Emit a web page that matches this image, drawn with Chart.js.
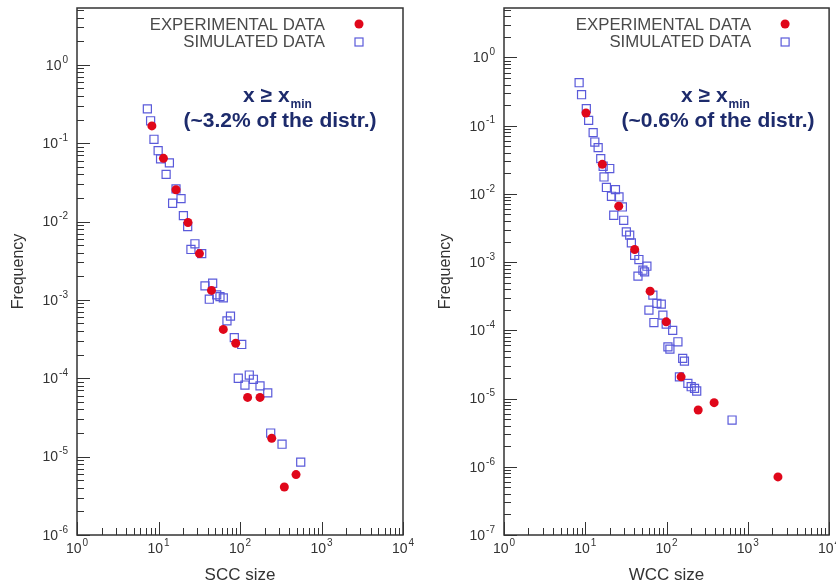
<!DOCTYPE html>
<html>
<head>
<meta charset="utf-8">
<title>SCC / WCC size distributions</title>
<script src="https://cdn.jsdelivr.net/npm/chart.js@4.4.1/dist/chart.umd.min.js"></script>
<style>
    html, body { margin: 0; padding: 0; background: #ffffff; }
    #wrap { position: relative; width: 836px; height: 584px; overflow: hidden; }
    .panel { position: absolute; top: 0; width: 418px; height: 584px; }
    #leftPanel { left: 0; }
    #rightPanel { left: 418px; }
</style>
</head>
<body>
<div id="wrap">
    <div class="panel" id="leftPanel"><canvas id="sccChart"></canvas></div>
    <div class="panel" id="rightPanel"><canvas id="wccChart"></canvas></div>
</div>
<script>
// ==========================================
// DATA
// ==========================================

// SCC size - experimental
const sccExpX = [8.3, 11.5, 16.4, 23.0, 31.8, 44.7, 62.4, 88.6, 124, 176, 245, 487, 350];
const sccExpY = [0.166, 0.064, 0.0254, 0.0097, 0.0039, 0.00132, 0.00042, 0.00028, 5.7e-5, 5.7e-5, 1.71e-5, 5.9e-6, 4.1e-6];

// SCC size - simulated
const sccSimX = [7.3, 8.0, 8.8, 9.9, 10.6, 13.6, 12.4, 16.4, 18.9, 14.9, 20.2, 22.8, 28.0, 25.0, 33.9,
    37.2, 46.2, 42.0, 51.8, 56.8, 62.4, 76.4, 69.2, 85.1, 105, 95.3, 130, 146, 115, 176, 219, 238, 328, 556];
const sccSimY = [0.274, 0.193, 0.112, 0.080, 0.063, 0.056, 0.040, 0.026, 0.0196, 0.0171, 0.0119, 0.0086, 0.0052, 0.0044, 0.0039,
    0.00151, 0.00163, 0.00102, 0.00116, 0.0011, 0.00106, 0.00062, 0.00054, 0.00033, 0.00027, 1.0e-4, 1.1e-4, 9.7e-5, 8.2e-5, 8.0e-5, 6.5e-5, 2.0e-5, 1.44e-5, 8.5e-6];

// WCC size - experimental
const wccExpX = [10.2, 16.2, 25.8, 40.5, 62.8, 99.1, 151, 245, 385, 2349];
const wccExpY = [0.153, 0.0271, 0.0066, 0.00153, 0.000375, 0.000133, 2.08e-5, 6.8e-6, 8.7e-6, 7.1e-7];

// WCC size - simulated
const wccSimX = [8.4, 9.0, 10.3, 11.0, 12.5, 13.1, 14.4, 15.5, 16.6, 20.0, 17.0, 18.2, 23.5, 21.0, 26.0, 28.6, 22.4,
    29.7, 32.0, 35.2, 36.9, 40.5, 45.7, 51.2, 57.3, 44.5, 53.7, 67.9, 76.0, 86.1, 60.7, 90.1, 69.9, 99,
    119, 138, 104, 110, 158, 166, 144, 183, 201, 221, 235, 640];
const wccSimY = [0.426, 0.284, 0.177, 0.1196, 0.079, 0.0575, 0.0476, 0.0329, 0.0254, 0.0235, 0.0177, 0.0124, 0.01156, 0.00922, 0.00901, 0.00643, 0.00486,
    0.0041, 0.00277, 0.00248, 0.00191, 0.00126, 0.00109, 0.00076, 0.00087, 0.000622, 0.00072, 0.000328, 0.000248, 0.000242, 0.000198, 0.000167, 0.00013, 0.000123,
    1.0e-4, 6.79e-5, 5.73e-5, 5.31e-5, 3.88e-5, 3.54e-5, 2.08e-5, 1.67e-5, 1.49e-5, 1.41e-5, 1.29e-5, 4.84e-6];

// axis ranges
const xRange = [1, 1e4];
const sccYRange = [1e-6, 5.3];
const wccYRange = [1e-7, 5.3];

const legendLabels = ['EXPERIMENTAL DATA', 'SIMULATED DATA'];

// ==========================================
// STYLE
// ==========================================

const FONT = '"Liberation Sans", Arial, Helvetica, sans-serif';
const RED = '#e0071a';
const BLUE = '#5a5ada';
const NAVY = '#1d2b6c';
const AXIS = '#333333';

const pairs = (xs, ys) => xs.map((x, i) => ({ x: x, y: ys[i] }));

// is a tick a decade (major), a 2..9 (minor) or something else
const tickKind = (v) => {
    const e = Math.floor(Math.log10(v) + 1e-9);
    const m = v / Math.pow(10, e);
    if (Math.abs(m - Math.round(m)) > 1e-6) return null;
    return Math.round(m) === 1 ? 'major' : 'minor';
};

// "10" with a raised exponent
const drawPower = (ctx, exp, x, y, align) => {
    ctx.font = '14px ' + FONT;
    const wb = ctx.measureText('10').width;
    ctx.font = '10px ' + FONT;
    const ws = ctx.measureText(exp).width;
    const total = wb + 1 + ws;
    const left = align === 'right' ? x - total : x - total / 2;
    ctx.textAlign = 'left';
    ctx.textBaseline = 'middle';
    ctx.font = '14px ' + FONT;
    ctx.fillText('10', left, y);
    ctx.font = '10px ' + FONT;
    ctx.fillText(exp, left + wb + 1, y - 6);
};

// ==========================================
// FRAME / TICKS / TEXT PLUGIN
// ==========================================

const frameDecor = {
    id: 'frameDecor',
    beforeDatasetsDraw(chart, args, opts) {
        const { ctx, chartArea: a } = chart;
        const xs = chart.scales.x;
        const ys = chart.scales.y;
        ctx.save();

        // box
        ctx.strokeStyle = AXIS;
        ctx.lineWidth = 1.5;
        ctx.strokeRect(a.left, a.top, a.right - a.left, a.bottom - a.top);

        // inward tick marks
        ctx.lineWidth = 1;
        ctx.beginPath();
        xs.ticks.forEach(t => {
            const kind = tickKind(t.value);
            if (!kind) return;
            const px = Math.round(xs.getPixelForValue(t.value)) + 0.5;
            ctx.moveTo(px, a.bottom);
            ctx.lineTo(px, a.bottom - (kind === 'major' ? 13 : 7));
        });
        ys.ticks.forEach(t => {
            const kind = tickKind(t.value);
            if (!kind) return;
            const py = Math.round(ys.getPixelForValue(t.value)) + 0.5;
            ctx.moveTo(a.left, py);
            ctx.lineTo(a.left + (kind === 'major' ? 13 : 7), py);
        });
        ctx.stroke();

        // tick labels
        ctx.fillStyle = AXIS;
        xs.ticks.forEach(t => {
            if (tickKind(t.value) !== 'major') return;
            const e = Math.round(Math.log10(t.value));
            drawPower(ctx, String(e), xs.getPixelForValue(t.value), a.bottom + 14, 'center');
        });
        ys.ticks.forEach(t => {
            if (tickKind(t.value) !== 'major') return;
            const e = Math.round(Math.log10(t.value));
            drawPower(ctx, String(e), a.left - 9, ys.getPixelForValue(t.value) + 1, 'right');
        });

        // axis titles
        ctx.fillStyle = AXIS;
        ctx.font = '17px ' + FONT;
        ctx.textAlign = 'center';
        ctx.textBaseline = 'middle';
        ctx.fillText(opts.xTitle, (a.left + a.right) / 2, a.bottom + 40);
        ctx.save();
        ctx.translate(opts.yTitleX, (a.top + a.bottom) / 2);
        ctx.rotate(-Math.PI / 2);
        ctx.font = '16px ' + FONT;
        ctx.fillText('Frequency', 0, 0);
        ctx.restore();

        // legend (text on the left, marker on the right)
        const mx = a.right - 44;
        ctx.font = '16.8px ' + FONT;
        ctx.fillStyle = '#4a4a4a';
        ctx.textAlign = 'right';
        ctx.fillText(legendLabels[0], a.right - 78, a.top + 17);
        ctx.fillText(legendLabels[1], a.right - 78, a.top + 34);
        ctx.fillStyle = RED;
        ctx.beginPath();
        ctx.arc(mx, a.top + 16, 4.5, 0, Math.PI * 2);
        ctx.fill();
        ctx.strokeStyle = BLUE;
        ctx.lineWidth = 1.2;
        ctx.strokeRect(mx - 4, a.top + 30, 8, 8);

        // annotation
        ctx.fillStyle = NAVY;
        ctx.textBaseline = 'alphabetic';
        ctx.textAlign = 'left';
        ctx.font = 'bold 21px ' + FONT;
        const main = 'x \u2265 x';
        const wm = ctx.measureText(main).width;
        ctx.font = 'bold 12px ' + FONT;
        const wsub = ctx.measureText('min').width;
        const start = opts.noteX - 3 - (wm + wsub) / 2;
        ctx.font = 'bold 21px ' + FONT;
        ctx.fillText(main, start, 102);
        ctx.font = 'bold 12px ' + FONT;
        ctx.fillText('min', start + wm + 1, 108);
        ctx.font = 'bold 21px ' + FONT;
        ctx.textAlign = 'center';
        ctx.fillText(opts.note, opts.noteX, 127);

        ctx.restore();
    }
};

// ==========================================
// CHART FACTORY
// ==========================================

const makeChart = (canvasId, expData, simData, yRange, layout) => {
    const ctx = document.getElementById(canvasId).getContext('2d');
    return new Chart(ctx, {
        type: 'scatter',
        data: {
            datasets: [{
                label: legendLabels[0],
                data: expData,
                pointStyle: 'circle',
                pointRadius: 4.5,
                pointBackgroundColor: RED,
                pointBorderColor: RED,
                pointBorderWidth: 0
            }, {
                label: legendLabels[1],
                data: simData,
                pointStyle: 'rect',
                pointRadius: 5.7,
                pointBackgroundColor: 'rgba(0,0,0,0)',
                pointBorderColor: BLUE,
                pointBorderWidth: 1.2
            }]
        },
        options: {
            responsive: true,
            maintainAspectRatio: false,
            animation: false,
            events: [],
            layout: {
                padding: { left: 0, right: layout.padRight, top: 8, bottom: 0 }
            },
            plugins: {
                legend: { display: false },
                tooltip: { enabled: false },
                frameDecor: {
                    xTitle: layout.xTitle,
                    yTitleX: layout.yTitleX,
                    note: layout.note,
                    noteX: layout.noteX
                }
            },
            scales: {
                x: {
                    type: 'logarithmic',
                    position: 'bottom',
                    min: xRange[0],
                    max: xRange[1],
                    grid: { display: false },
                    border: { display: false },
                    ticks: { display: false },
                    afterFit: (scale) => { scale.height = 49; }
                },
                y: {
                    type: 'logarithmic',
                    position: 'left',
                    min: yRange[0],
                    max: yRange[1],
                    grid: { display: false },
                    border: { display: false },
                    ticks: { display: false },
                    afterFit: (scale) => { scale.width = layout.axisWidth; }
                }
            }
        },
        plugins: [frameDecor]
    });
};

// ==========================================
// INITIALIZATION
// ==========================================

makeChart('sccChart', pairs(sccExpX, sccExpY), pairs(sccSimX, sccSimY), sccYRange, {
    padRight: 15,
    axisWidth: 77,
    xTitle: 'SCC size',
    yTitleX: 19,
    note: '(~3.2% of the distr.)',
    noteX: 280
});

makeChart('wccChart', pairs(wccExpX, wccExpY), pairs(wccSimX, wccSimY), wccYRange, {
    padRight: 6,
    axisWidth: 86,
    xTitle: 'WCC size',
    yTitleX: 28,
    note: '(~0.6% of the distr.)',
    noteX: 300
});
</script>
</body>
</html>
